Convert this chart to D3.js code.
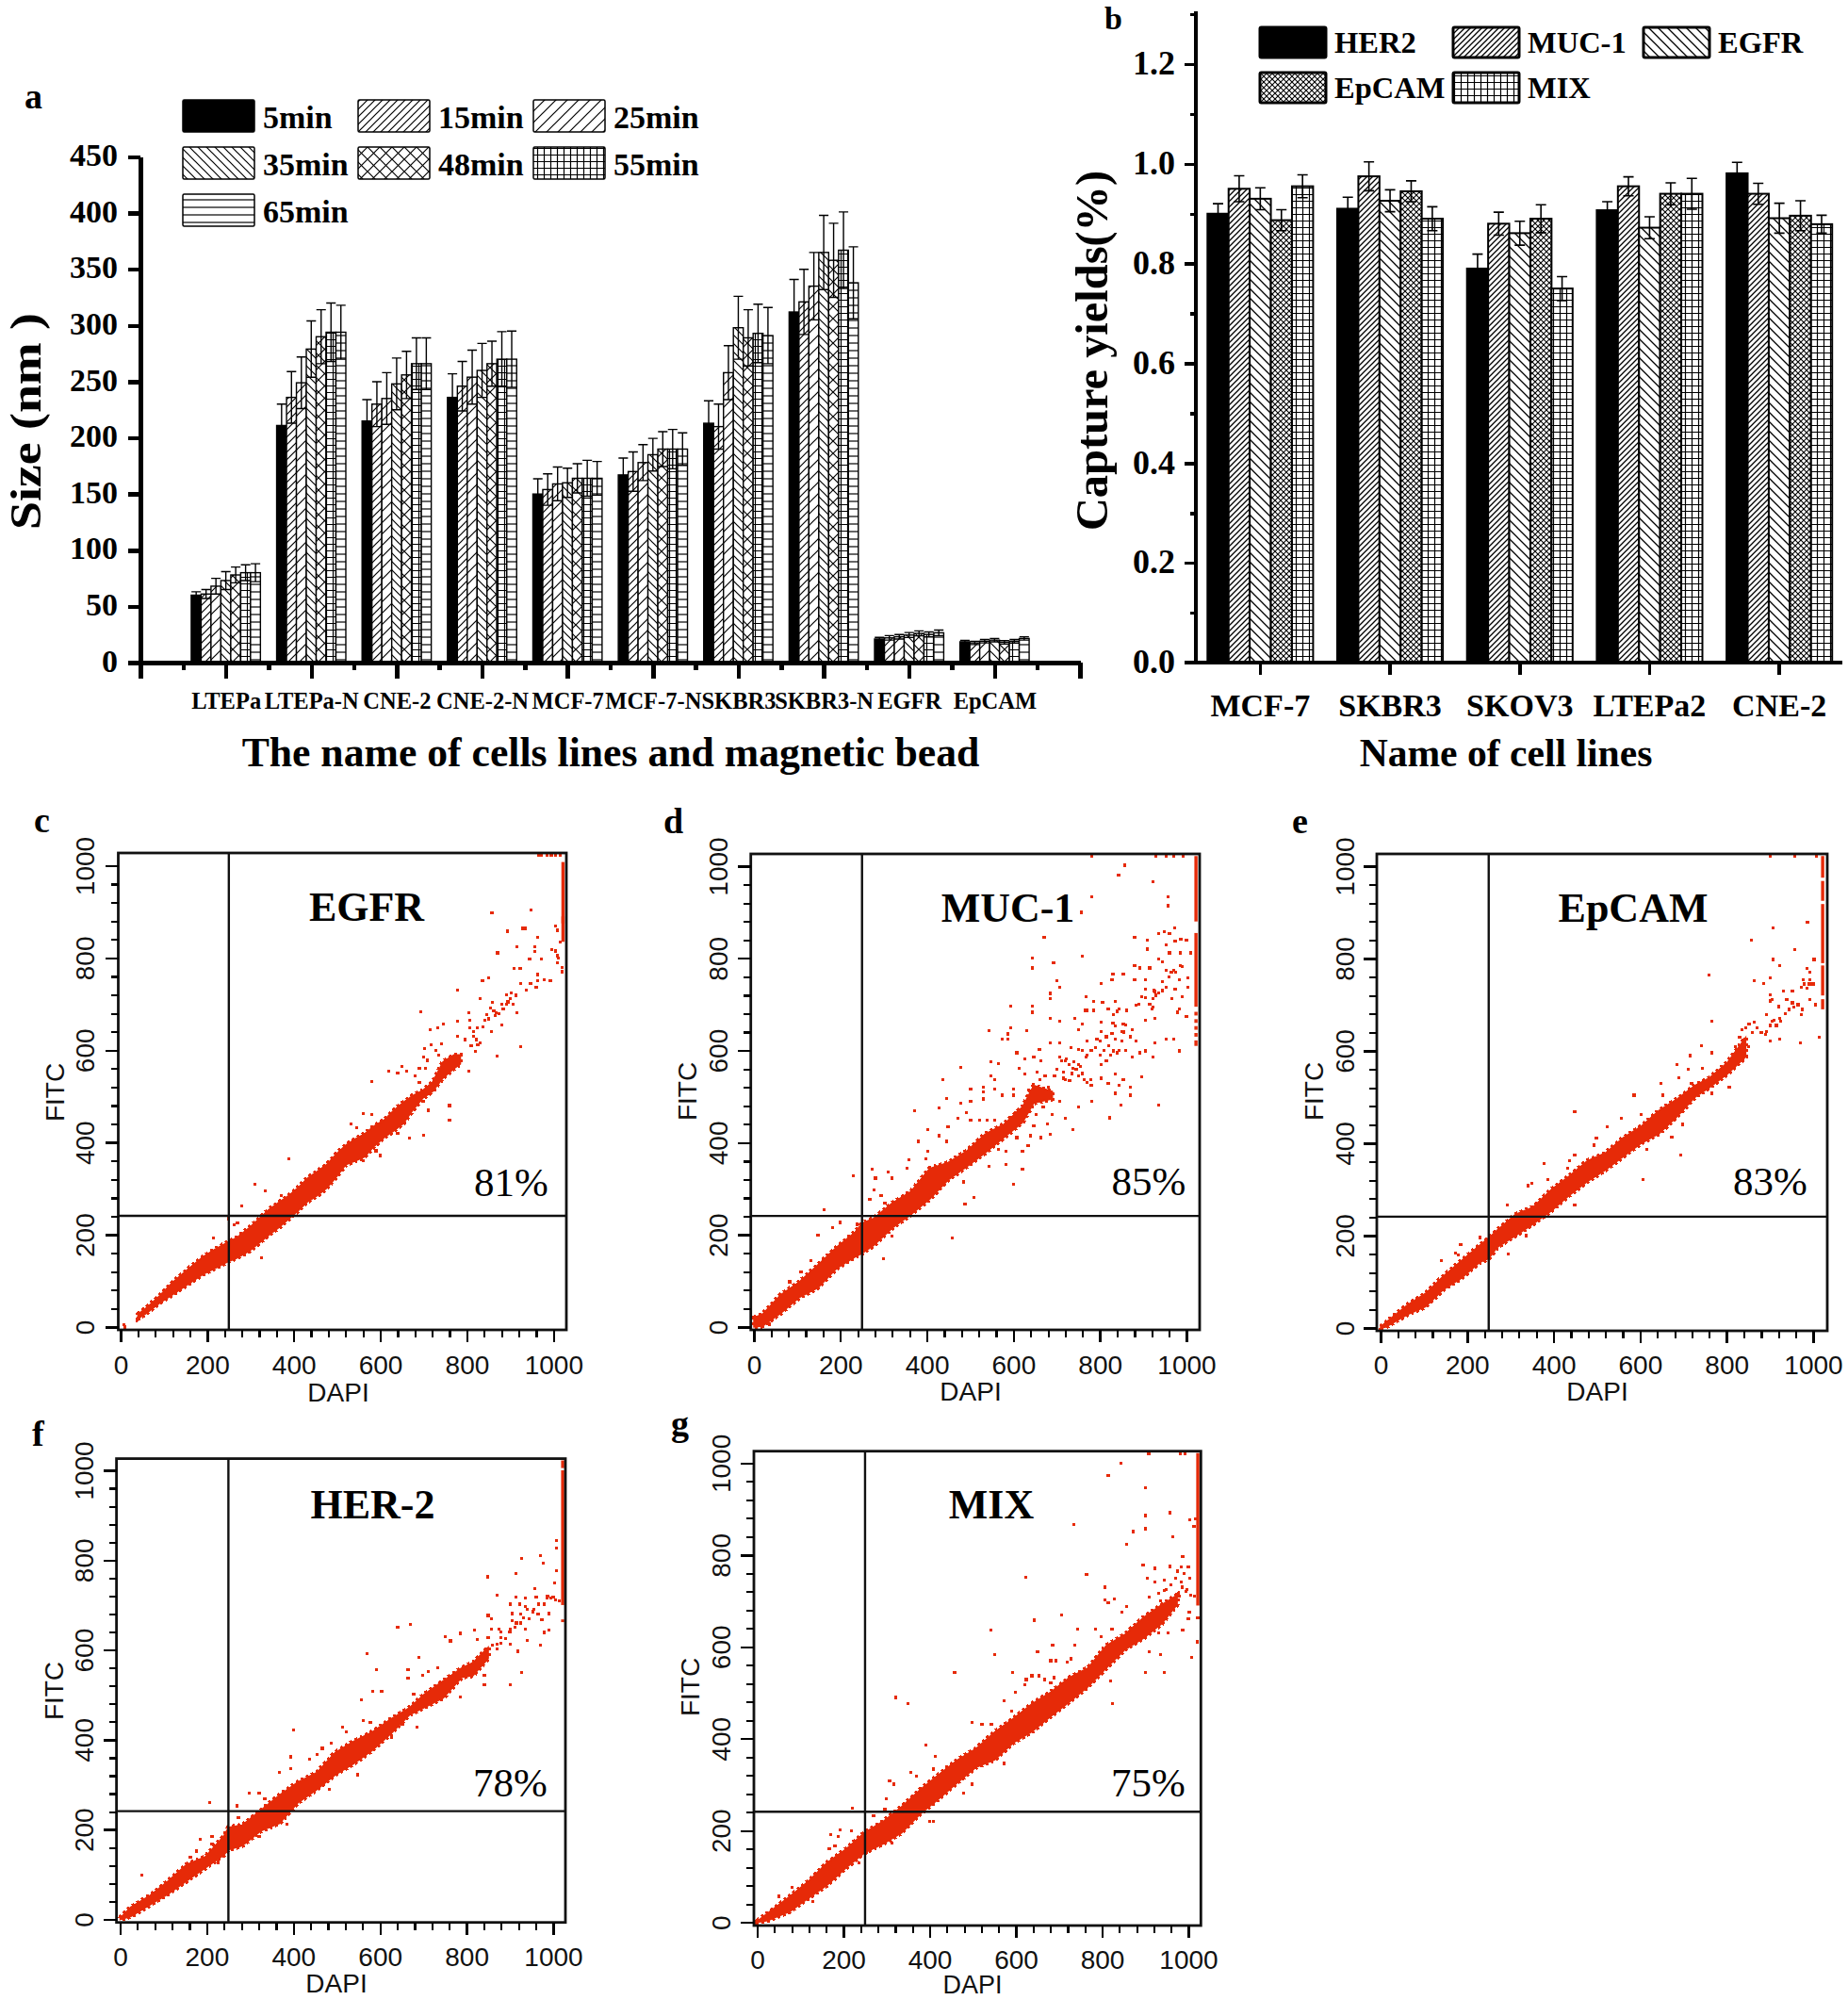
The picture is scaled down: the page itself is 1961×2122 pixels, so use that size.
<!DOCTYPE html>
<html><head><meta charset="utf-8">
<script src="https://d3js.org/d3.v7.min.js"></script>
<style>
html,body{margin:0;padding:0;background:#fff}
svg{display:block}
.serif{font-family:"Liberation Serif","Noto Sans CJK SC",serif;font-weight:700;fill:#000}
.sans{font-family:"Liberation Sans",sans-serif;fill:#111}
</style></head><body>
<script>
// ---------- panel a data ----------
const sizeCategories=["LTEPa","LTEPa-N","CNE-2","CNE-2-N","MCF-7","MCF-7-N","SKBR3","SKBR3-N","EGFR","EpCAM"];
const sizeTimes=["5min","15min","25min","35min","48min","55min","65min"];
const size5=[60,211,215,236,150,167,213,312,21,18.5];
const size15=[61,236,230,246,154,170,210,321,22,17.5];
const size25=[68,249,235,254,159,178,258,335,23,19];
const size35=[73,279,248,260,160,185,298,365,24.5,20];
const size48=[78,290,256,266,164,190,289,358,26,18];
const size55=[80,294,266,270,164,190,293,367,25,19];
const size65=[80,294,266,270,164,190,291,338,26.5,21.5];
const err5=[3,19,19,21,13.5,15,20,29,1.5,1.2];
const err15=[4,23,20,22,14,17.5,20,29,2,1.5];
const err25=[7,23,23,24,15,16,24,30,2,1.5];
const err35=[8,25,23,24,13,14.5,28,33,2.2,1.5];
const err48=[7,24,21,20,13,15.5,25,33,2.2,1.5];
const err55=[7,26,23,24.5,16,17.5,26,34,2.2,1.5];
const err65=[8,24,23,25,15,14.5,25,32,2.5,1.5];
const sizeTicks=[0,50,100,150,200,250,300,350,400,450];

// ---------- panel b data ----------
const yieldCells=["MCF-7","SKBR3","SKOV3","LTEPa2","CNE-2"];
const yieldAntibodies=["HER2","MUC-1","EGFR","EpCAM","MIX"];
const yieldHER2=[.90,.91,.79,.907,.981];
const yieldMUC1=[.95,.975,.88,.955,.94];
const yieldEGFR=[.93,.926,.861,.872,.891];
const yieldEpCAM=[.887,.945,.89,.94,.896];
const yieldMIX=[.955,.89,.75,.94,.879];
const yerrHER2=[.02,.023,.029,.017,.022];
const yerrMUC1=[.026,.029,.023,.019,.021];
const yerrEGFR=[.022,.022,.024,.022,.03];
const yerrEpCAM=[.021,.021,.028,.022,.03];
const yerrMIX=[.023,.024,.024,.031,.018];
const yieldTicks=[0,.2,.4,.6,.8,1.0,1.2];

// ---------- flow panels: dense band (DAPI stop, FITC low, FITC high), single events, right-edge runs ----------
const egfrDapi=[40,60,90,120,155,190,220,244,270,298,320,342,365,387,410,431,455,476,498,520,542,564,586,609,631,653,675,698,720,745,770,785];
const egfrLo=[18,30,52,70,92,114,128,140,150,165,182,199,215,233,252,271,285,301,325,352,360,369,392,411,425,441,470,496,510,540,560,570];
const egfrHi=[28,42,68,97,125,152,170,182,195,216,235,254,270,284,302,322,338,352,375,394,408,419,436,449,470,487,502,513,530,575,590,590];
const egfrPts=[[858,898],[949,904],[893,858],[929,864],[935,864],[964,844],[916,825],[871,811],[957,825],[957,814],[996,818],[973,798],[945,798],[1009,805],[909,777],[923,777],[964,764],[964,750],[978,752],[993,750],[960,737],[947,744],[938,731],[924,744],[851,757],[836,750],[778,731],[831,712],[693,684],[804,682],[902,725],[891,720],[913,719],[891,699],[906,699],[916,682],[880,699],[884,690],[868,682],[859,703],[855,691],[846,678],[842,665],[850,668],[807,665],[778,663],[746,657],[715,644],[733,648],[807,648],[824,648],[837,650],[857,640],[880,655],[816,631],[778,631],[796,623],[822,623],[831,616],[925,608],[870,588],[820,597],[703,603],[742,614],[804,555],[787,589],[815,640],[825,612],[810,610],[875,680],[895,705],[900,712],[862,685],[865,675],[718,612],[728,600],[735,590],[700,585],[708,578],[690,560],[705,560],[680,545],[690,530],[640,550],[620,555],[650,565],[660,555],[580,532],[700,490],[712,505],[722,520],[760,480],[760,448],[640,420],[668,410],[700,415],[710,470],[580,460],[560,462],[545,432],[532,440],[625,430],[600,372],[590,382],[560,360],[388,364],[310,310],[335,295],[372,285],[280,262],[250,235],[262,222],[270,225],[215,193],[325,150],[1005,870],[1010,860],[1015,835],[1005,815],[1010,790],[1020,770],[1020,780],[1012,800],[965,1022],[972,1022],[985,1022],[995,1022],[1005,1022],[1015,1022],[8,5],[10,0]];
const egfrEdge=[[835,1008],[875,890]];

const muc1Dapi=[0,20,62,105,148,191,234,250,277,320,363,406,449,492,535,578,621,647,690];
const muc1Lo=[0,2,30,64,85,127,152,160,177,215,244,277,319,348,378,411,444,486,495];
const muc1Hi=[20,28,70,98,135,173,206,225,236,269,294,344,357,382,419,440,478,524,511];
const muc1Pts=[[781,1022],[929,1022],[953,1022],[970,1022],[993,1022],[858,1002],[843,981],[923,967],[781,933],[957,933],[957,914],[757,900],[671,845],[880,845],[935,854],[948,858],[961,854],[972,866],[987,841],[1000,839],[910,839],[910,820],[953,829],[974,837],[961,812],[985,812],[1009,812],[759,805],[643,800],[643,779],[693,791],[935,799],[944,793],[880,785],[893,779],[915,779],[953,774],[970,774],[991,783],[830,766],[854,766],[880,753],[828,753],[906,753],[944,749],[983,753],[1004,757],[802,745],[700,751],[707,737],[686,724],[686,712],[768,716],[906,733],[927,728],[953,737],[974,733],[1004,737],[897,716],[923,712],[966,712],[991,716],[785,707],[806,705],[836,707],[594,697],[643,697],[643,683],[819,691],[862,687],[884,699],[767,687],[771,687],[785,687],[983,691],[923,695],[686,670],[707,663],[742,670],[832,678],[906,666],[927,670],[979,683],[1000,674],[759,658],[802,662],[854,658],[875,645],[836,654],[594,649],[544,643],[630,643],[587,636],[574,624],[587,624],[750,645],[802,641],[828,637],[850,641],[953,624],[970,624],[927,616],[884,620],[793,624],[771,620],[707,616],[686,616],[660,603],[733,607],[750,603],[983,599],[906,599],[893,595],[923,586],[875,586],[832,599],[840,595],[815,578],[647,586],[608,595],[626,582],[664,578],[707,586],[720,578],[737,561],[768,586],[760,600],[479,563],[548,576],[565,571],[613,561],[655,553],[673,545],[716,553],[750,545],[802,570],[836,549],[897,543],[802,540],[778,536],[436,536],[548,545],[557,536],[626,549],[662,536],[695,545],[720,536],[763,536],[819,528],[854,536],[845,524],[871,520],[501,516],[531,520],[531,511],[557,516],[600,516],[836,507],[871,503],[600,503],[445,496],[479,486],[501,490],[531,495],[574,503],[750,478],[781,490],[849,482],[935,482],[428,476],[372,470],[707,490],[669,478],[823,454],[652,461],[690,461],[720,453],[492,465],[471,453],[501,449],[522,449],[540,449],[557,449],[449,434],[402,428],[647,436],[678,440],[737,428],[664,411],[686,419],[639,415],[608,411],[445,403],[428,415],[380,403],[621,382],[634,394],[583,382],[565,386],[402,382],[398,365],[359,363],[311,336],[273,342],[230,329],[281,323],[319,323],[354,344],[583,353],[621,342],[544,348],[484,315],[600,309],[508,282],[488,267],[277,298],[268,277],[294,286],[303,269],[163,254],[458,194],[299,148],[148,200],[200,227],[182,215],[238,223],[320,198],[131,144],[83,98],[109,119],[36,6],
[700,560],[712,578],[722,582],[735,550],[745,560],[755,565],[770,590],[780,600],[790,606],[800,620],[815,630],[830,660],[840,685],[845,690],[855,640],[850,620],[860,600],[845,600],[825,590],[780,525],[770,530],[760,550],[740,575],[728,570],[715,540],[730,535],[750,570],[860,655],[870,630],[890,700],[905,715],[915,700],[920,690],[935,725],[945,730],[960,760],[965,770],[975,770],[985,785],[925,730],[930,720],[800,590],[810,600],[820,610],[835,625],[680,505],[670,505],[660,505],[650,505],[640,505],[635,515],[650,520],[665,515],[680,520],[625,480],[615,470],[605,465],[595,455],[620,465]];
const muc1Edge=[[880,1022],[695,855],[676,684],[660,668],[645,653],[630,638],[610,622]];

const epcamDapi=[0,12,62,104,145,187,229,250,270,312,353,395,436,478,520,561,603,644,686,727,761,802,844];
const epcamLo=[0,2,29,46,83,108,142,150,175,200,225,254,287,317,342,371,400,421,458,500,521,550,587];
const epcamHi=[3,12,50,75,112,146,179,195,212,246,262,300,329,362,379,412,437,471,496,525,542,575,629];
const epcamPts=[[900,1022],[958,1022],[1007,1022],[908,867],[987,879],[858,839],[958,819],[908,798],[923,785],[1002,798],[759,765],[864,752],[885,746],[900,758],[985,779],[993,771],[977,754],[993,754],[900,721],[900,708],[906,712],[931,729],[952,729],[972,737],[939,712],[921,696],[952,704],[993,712],[1006,700],[893,679],[910,667],[765,664],[923,671],[852,658],[835,646],[864,662],[893,642],[900,621],[923,625],[971,617],[1014,629],[972,679],[741,611],[765,596],[715,590],[686,571],[744,562],[711,561],[690,542],[765,508],[806,522],[719,529],[648,529],[652,504],[586,504],[449,468],[557,454],[673,462],[603,462],[524,436],[698,441],[673,414],[694,375],[615,387],[499,412],[493,396],[449,375],[436,362],[378,356],[432,346],[607,322],[386,322],[349,314],[341,308],[449,267],[293,267],[185,181],[229,196],[173,163],[141,146],[295,161],[337,200],[179,158],
[860,640],[870,650],[880,640],[900,655],[905,665],[915,655],[925,665],[935,680],[945,690],[955,695],[965,700],[975,690],[985,735],[995,745],[1000,745],[990,745],[980,745],[890,635],[850,610],[845,650],[830,630],[820,610]];
const epcamEdge=[[720,785],[790,918],[925,968],[975,1022],[690,712]];

const her2Dapi=[0,24,67,110,153,196,239,250,282,325,368,411,454,497,540,583,626,669,703,746,789,815,850];
const her2Lo=[0,6,31,56,85,114,143,155,164,197,214,260,289,322,347,377,414,456,472,493,539,543,581];
const her2Hi=[3,27,52,85,122,139,185,205,210,243,277,306,327,372,397,418,447,472,502,531,560,572,606];
const her2Pts=[[1007,843],[1007,827],[927,803],[970,810],[977,793],[914,770],[848,763],[1007,777],[1004,750],[957,737],[871,722],[914,717],[936,716],[961,718],[987,720],[1000,718],[901,702],[922,702],[936,697],[966,702],[979,702],[991,681],[905,681],[931,672],[953,685],[974,668],[850,677],[858,670],[671,657],[641,650],[936,647],[991,645],[979,639],[819,645],[858,647],[875,647],[901,647],[751,630],[785,637],[763,620],[824,624],[850,627],[879,627],[940,622],[901,612],[970,610],[871,602],[918,597],[570,591],[690,583],[592,556],[665,556],[665,537],[699,543],[733,560],[927,550],[841,543],[901,522],[841,522],[712,552],[583,508],[604,508],[678,502],[557,489],[785,495],[561,442],[578,439],[514,428],[522,418],[400,422],[652,435],[686,428],[626,406],[488,393],[467,381],[394,362],[454,367],[437,356],[548,322],[368,328],[394,335],[484,289],[299,281],[321,281],[334,268],[269,253],[206,260],[273,227],[385,212],[185,179],[212,185],[212,168],[50,99],[226,127],[321,185],[162,139],[177,152],
[860,610],[870,612],[880,615],[890,625],[900,640],[915,660],[925,680],[940,690],[955,690],[965,680],[985,715],[995,715],[1005,712],[1015,710],[905,665],[912,650],[880,640],[835,590],[845,585],[925,660],[945,670]];
const her2Edge=[[700,1000],[1005,1022],[662,668]];

const mixDapi=[0,24,76,119,162,205,248,292,335,378,421,465,508,551,594,637,680,724,767,810,853,896,939,974];
const mixLo=[0,4,24,53,81,118,151,171,195,236,269,305,338,354,391,415,448,480,513,554,594,619,651,692];
const mixHi=[3,20,57,90,130,159,195,220,252,289,322,354,379,415,444,476,501,533,554,603,627,664,692,713];
const mixPts=[[908,1020],[981,1020],[993,1020],[843,999],[814,973],[901,946],[957,892],[901,886],[735,866],[901,857],[872,851],[964,839],[857,824],[1013,863],[1004,877],[1017,878],[987,796],[895,778],[922,771],[957,775],[983,774],[1000,774],[764,757],[905,749],[622,751],[944,745],[970,749],[1004,749],[807,730],[922,741],[983,741],[948,725],[996,725],[806,702],[829,704],[814,696],[909,708],[931,717],[857,688],[845,676],[1002,676],[1022,664],[706,670],[642,658],[1000,661],[542,637],[743,638],[784,639],[823,639],[987,637],[797,623],[931,631],[953,631],[1021,611],[909,590],[685,603],[737,603],[551,584],[650,590],[935,584],[1007,577],[681,570],[693,570],[719,566],[728,574],[901,544],[944,544],[458,544],[592,544],[637,537],[654,537],[667,529],[624,529],[620,517],[681,521],[689,533],[819,525],[598,501],[824,476],[322,490],[350,476],[573,482],[590,460],[499,436],[521,432],[543,432],[391,387],[573,346],[413,362],[357,327],[370,319],[307,308],[316,301],[439,338],[408,334],[300,269],[221,248],[400,220],[408,220],[499,301],[478,281],[171,191],[193,201],[188,187],[167,160],[180,167],[218,200],[50,57],[80,77],[128,45],[236,130],[313,173],[253,153],[270,232],[296,246],
[985,730],[995,720],[1005,712],[1015,710],[960,700],[970,695],[978,710],[990,760],[975,765],[960,735],[945,722],[935,700]];
const mixEdge=[[690,1022]];

const flowTicks=[0,200,400,600,800,1000];
const flowMinor=[40,80,120,160,240,280,320,360,440,480,520,560,640,680,720,760,840,880,920,960];
const quadrantDapi=250, quadrantFitc=241, flowEdgeDapi=1022;

// ---------- layout (not data) ----------
const W=1961,H=2122;
const svg=d3.select("body").append("svg").attr("width",W).attr("height",H).attr("viewBox",`0 0 ${W} ${H}`);
const defs=svg.append("defs");
function hatch(id,size,paths,sw){
  const p=defs.append("pattern").attr("id",id).attr("patternUnits","userSpaceOnUse").attr("width",size).attr("height",size);
  p.append("rect").attr("width",size).attr("height",size).attr("fill","#fff");
  paths.forEach(d=>p.append("path").attr("d",d).attr("stroke","#000").attr("stroke-width",sw).attr("fill","none"));
}
function diagUp(s){return `M${-s/2},${s/2}L${s/2},${-s/2}M0,${s}L${s},0M${s/2},${s*1.5}L${s*1.5},${s/2}`}
function diagDn(s){return `M${-s/2},${s/2}L${s/2},${s*1.5}M0,0L${s},${s}M${s/2},${-s/2}L${s*1.5},${s/2}`}
hatch("a15",8,[diagUp(8)],1.2);
hatch("a25",12,[diagUp(12)],1.2);
hatch("a35",9,[diagDn(9)],1.2);
hatch("a48",13,[diagUp(13),diagDn(13)],1.2);
hatch("a55",7,[`M0,3.5H7M3.5,0V7`],1.2);
hatch("a65",8,[`M0,4H8`],1.2);
hatch("bMUC",6,[diagUp(6)],1.3);
hatch("bEGFR",10,[diagDn(10)],1.3);
hatch("bEp",6,[diagUp(6),diagDn(6)],1.1);
hatch("bMIX",7,[`M0,3.5H7M3.5,0V7`],1.2);
const fillsA=["#000","url(#a15)","url(#a25)","url(#a35)","url(#a48)","url(#a55)","url(#a65)"];
const fillsB=["#000","url(#bMUC)","url(#bEGFR)","url(#bEp)","url(#bMIX)"];
function txt(cls,s,x,y,size,opt={}){
  const t=svg.append("text").attr("class",cls).attr("x",x).attr("y",y).attr("font-size",size).text(s);
  if(opt.anchor)t.attr("text-anchor",opt.anchor);
  if(opt.rot)t.attr("transform",`rotate(${opt.rot} ${x} ${y})`);
  if(opt.weight)t.style("font-weight",opt.weight);
  if(opt.fit)t.attr("textLength",opt.fit).attr("lengthAdjust","spacingAndGlyphs");
  return t;
}
function styleAxis(g,sw){g.selectAll("line,path").attr("stroke","#000").attr("stroke-width",sw).attr("shape-rendering","crispEdges");}

// ---------- panel a ----------
(function(){
  const sizeSeries=[size5,size15,size25,size35,size48,size55,size65];
  const errSeries=[err5,err15,err25,err35,err48,err55,err65];
  const x=d3.scaleLinear().domain([0,11]).range([149,1146]);
  const y=d3.scaleLinear().domain([0,450]).range([703,166.5]);
  const inner=d3.scaleBand().domain(sizeTimes).range([-0.405,0.405]);
  const bw=x(inner.bandwidth())-x(0);
  sizeSeries.forEach((vals,s)=>{
    const g=svg.append("g");
    vals.forEach((v,i)=>{
      const bx=x(i+1+inner(sizeTimes[s]));
      g.append("rect").attr("x",bx).attr("y",y(v)).attr("width",bw).attr("height",y(0)-y(v))
        .attr("fill",fillsA[s]).attr("stroke","#000").attr("stroke-width",1.4);
      const e=errSeries[s][i],cx=bx+bw/2,cap=bw*0.48;
      g.append("path").attr("fill","none").attr("stroke","#000").attr("stroke-width",1.4)
        .attr("d",`M${cx},${y(v-e)}V${y(v+e)}M${cx-cap},${y(v+e)}H${cx+cap}M${bx},${y(v-e)}H${bx+bw}`);
    });
  });
  const ax=svg.append("g").attr("transform","translate(149,0)").call(d3.axisLeft(y).tickValues(sizeTicks).tickSize(13).tickSizeOuter(0).tickFormat(d3.format("d")));
  styleAxis(ax,4.5);
  ax.selectAll("text").attr("class","serif").attr("font-size",34).attr("dy",".27em").attr("x",-24);
  const xMinor=svg.append("g").attr("transform","translate(0,703)").call(d3.axisBottom(x).tickValues(d3.range(0.5,11,1)).tickSize(8).tickSizeOuter(0).tickFormat(""));
  styleAxis(xMinor,4.5);
  const xMajor=svg.append("g").attr("transform","translate(0,703)").call(d3.axisBottom(x).tickValues(d3.range(0,12)).tickSize(17).tickSizeOuter(0).tickFormat(i=>sizeCategories[i-1]||""));
  styleAxis(xMajor,4.5);
  xMajor.selectAll("text").attr("class","serif").attr("font-size",24.5).attr("dy",0).attr("y",49).attr("text-anchor","middle");
  // legend
  const cols=[194,380,566],rows=[106,156,206];
  sizeTimes.forEach((t,i)=>{
    const cx=cols[i%3],ry=rows[Math.floor(i/3)];
    svg.append("rect").attr("x",cx).attr("y",ry).attr("width",76).attr("height",34).attr("rx",1.5)
      .attr("fill",fillsA[i]).attr("stroke","#000").attr("stroke-width",1.5);
    txt("serif",t,cx+85,ry+30,34);
  });
  txt("serif","a",26,115,38);
  txt("serif","Size\u00A0(nm\u00A0)",43,447,47,{anchor:"middle",rot:-90,fit:230});
  txt("serif","The name of cells lines and magnetic bead",648,813,43.7,{anchor:"middle"});
})();

// ---------- panel b ----------
(function(){
  const ySeries=[yieldHER2,yieldMUC1,yieldEGFR,yieldEpCAM,yieldMIX];
  const eSeries=[yerrHER2,yerrMUC1,yerrEGFR,yerrEpCAM,yerrMIX];
  const x=d3.scaleBand().domain(yieldCells).range([1268.5,1957]);
  const y=d3.scaleLinear().domain([0,1.2]).range([703,68]);
  const inner=d3.scaleBand().domain(yieldAntibodies).range([x.bandwidth()*0.093,x.bandwidth()*0.907]);
  ySeries.forEach((vals,s)=>{
    vals.forEach((v,i)=>{
      const bx=x(yieldCells[i])+inner(yieldAntibodies[s]),bw=inner.bandwidth();
      svg.append("rect").attr("x",bx).attr("y",y(v)).attr("width",bw).attr("height",y(0)-y(v))
        .attr("fill",fillsB[s]).attr("stroke","#000").attr("stroke-width",2);
      const e=eSeries[s][i],cx=bx+bw/2;
      svg.append("path").attr("fill","none").attr("stroke","#000").attr("stroke-width",1.6)
        .attr("d",`M${cx},${y(v-e)}V${y(v+e)}M${cx-5.5},${y(v+e)}H${cx+5.5}M${cx-5.5},${y(v-e)}H${cx+5.5}`);
    });
  });
  const axMinor=svg.append("g").attr("transform","translate(1269,0)").call(d3.axisLeft(y).tickValues([.1,.3,.5,.7,.9,1.1,1.3]).tickSize(6).tickSizeOuter(0).tickFormat(""));
  styleAxis(axMinor,3.5);
  axMinor.select(".domain").attr("d",`M0,${y(1.305)}V703`);
  const ax=svg.append("g").attr("transform","translate(1269,0)").call(d3.axisLeft(y).tickValues(yieldTicks).tickSize(12).tickSizeOuter(0).tickFormat(d3.format(".1f")));
  styleAxis(ax,3.5);
  ax.select(".domain").remove();
  ax.selectAll("text").attr("class","serif").attr("font-size",36).attr("dy",".3em").attr("x",-22);
  const xa=svg.append("g").attr("transform","translate(0,703)").call(d3.axisBottom(x).tickSize(13).tickSizeOuter(0));
  styleAxis(xa,3.5);
  xa.select(".domain").attr("d","M1257,0H1955");
  xa.selectAll("text").attr("class","serif").attr("font-size",34).attr("dy",0).attr("y",57);
  const lx=[1337,1542,1744],ly=[29,77];
  yieldAntibodies.forEach((t,i)=>{
    const cx=lx[i%3],ry=ly[Math.floor(i/3)];
    svg.append("rect").attr("x",cx).attr("y",ry).attr("width",70).attr("height",32).attr("rx",1.5)
      .attr("fill",fillsB[i]).attr("stroke","#000").attr("stroke-width",3);
    txt("serif",t,cx+79,ry+27,32.5);
  });
  txt("serif","b",1172,31,34);
  txt("serif","Capture yields(%)",1175,372,48.4,{anchor:"middle",rot:-90});
  txt("serif","Name of cell lines",1598,813,41.6,{anchor:"middle"});
})();

// ---------- flow panels ----------
const RED="#e62a08";
const flowPanels=[
 {name:"EGFR",pct:"81%",tag:"c",dapi:egfrDapi,lo:egfrLo,hi:egfrHi,pts:egfrPts,edge:egfrEdge,fx:[125.5,601],fy:[905,1411],x0:128,x1:587.3,y0:1408,y1:918.5,
  title:[389,977],pctAt:[542.5,1269],tagAt:[36,883],ylab:99.6,fitc:[68,1159],dapiAt:[359,1487],xlab:1458},
 {name:"MUC-1",pct:"85%",tag:"d",dapi:muc1Dapi,lo:muc1Lo,hi:muc1Hi,pts:muc1Pts,edge:muc1Edge,fx:[796.7,1273],fy:[906,1411],x0:800,x1:1259,y0:1408,y1:919,
  title:[1069.5,977.5],pctAt:[1219,1268],tagAt:[704,884],ylab:772,fitc:[739,1158],dapiAt:[1030,1486],xlab:1458},
 {name:"EpCAM",pct:"83%",tag:"e",dapi:epcamDapi,lo:epcamLo,hi:epcamHi,pts:epcamPts,edge:epcamEdge,fx:[1461,1939],fy:[906,1412],x0:1465,x1:1924,y0:1409,y1:919,
  title:[1733,977.5],pctAt:[1878.5,1268],tagAt:[1371,884],ylab:1436.5,fitc:[1404,1158],dapiAt:[1695,1486],xlab:1458},
 {name:"HER-2",pct:"78%",tag:"f",dapi:her2Dapi,lo:her2Lo,hi:her2Hi,pts:her2Pts,edge:her2Edge,fx:[123.6,600],fy:[1547.6,2039.7],x0:127.5,x1:587,y0:2036.5,y1:1560,
  title:[395.5,1611],pctAt:[541.5,1905.6],tagAt:[34,1534],ylab:99,fitc:[66.6,1794],dapiAt:[357,2114],xlab:2086.5},
 {name:"MIX",pct:"75%",tag:"g",dapi:mixDapi,lo:mixLo,hi:mixHi,pts:mixPts,edge:mixEdge,fx:[800,1274.3],fy:[1539.7,2043],x0:803.6,x1:1261,y0:2039.7,y1:1552.4,
  title:[1052,1611],pctAt:[1218.5,1905.6],tagAt:[712,1523],ylab:775,fitc:[742,1790],dapiAt:[1032,2115],xlab:2089}
];
flowPanels.forEach(p=>{
  const x=d3.scaleLinear().domain([0,1000]).range([p.x0,p.x1]);
  const y=d3.scaleLinear().domain([0,1000]).range([p.y0,p.y1]);
  const area=d3.area().x((d,i)=>x(p.dapi[i])).y0((d,i)=>y(p.lo[i])).y1((d,i)=>y(p.hi[i]));
  const bandPath=area(p.dapi);
  svg.append("path").attr("d",bandPath).attr("fill",RED).attr("stroke",RED).attr("stroke-width",1.5);
  // dashed outline gives the band the blocky, binned edge of a dot plot
  svg.append("path").attr("d",bandPath).attr("fill","none").attr("stroke",RED).attr("stroke-width",5)
    .attr("stroke-dasharray","3 3").attr("shape-rendering","crispEdges");
  svg.append("g").selectAll("rect").data(p.pts).join("rect").attr("shape-rendering","crispEdges")
    .attr("x",d=>x(d[0])-1.6).attr("y",d=>y(d[1])-1.6).attr("width",3.2).attr("height",3.2).attr("fill",RED);
  svg.append("g").selectAll("line").data(p.edge).join("line")
    .attr("x1",x(flowEdgeDapi)).attr("x2",x(flowEdgeDapi)).attr("y1",d=>y(d[0])).attr("y2",d=>y(d[1]))
    .attr("stroke",RED).attr("stroke-width",3.4);
  svg.append("rect").attr("x",p.fx[0]).attr("y",p.fy[0]).attr("width",p.fx[1]-p.fx[0]).attr("height",p.fy[1]-p.fy[0])
    .attr("fill","none").attr("stroke","#111").attr("stroke-width",2.8);
  svg.append("line").attr("x1",x(quadrantDapi)).attr("x2",x(quadrantDapi)).attr("y1",p.fy[0]).attr("y2",p.fy[1]).attr("stroke","#111").attr("stroke-width",2.4);
  svg.append("line").attr("x1",p.fx[0]).attr("x2",p.fx[1]).attr("y1",y(quadrantFitc)).attr("y2",y(quadrantFitc)).attr("stroke","#111").attr("stroke-width",2.4);
  const fmt=d3.format("d");
  // x axis
  const xm=svg.append("g").attr("transform",`translate(0,${p.fy[1]})`).call(d3.axisBottom(x).tickValues(flowMinor).tickSize(8).tickSizeOuter(0).tickFormat(""));
  styleAxis(xm,2.2); xm.select(".domain").remove();
  const xj=svg.append("g").attr("transform",`translate(0,${p.fy[1]})`).call(d3.axisBottom(x).tickValues(flowTicks).tickSize(13).tickSizeOuter(0).tickFormat(fmt));
  styleAxis(xj,2.4); xj.select(".domain").remove();
  xj.selectAll("text").attr("class","sans").attr("font-size",28).attr("dy",0).attr("y",p.xlab-p.fy[1]);
  // y axis
  const ym=svg.append("g").attr("transform",`translate(${p.fx[0]},0)`).call(d3.axisLeft(y).tickValues(flowMinor).tickSize(8).tickSizeOuter(0).tickFormat(""));
  styleAxis(ym,2.2); ym.select(".domain").remove();
  const yj=svg.append("g").attr("transform",`translate(${p.fx[0]},0)`).call(d3.axisLeft(y).tickValues(flowTicks).tickSize(14).tickSizeOuter(0).tickFormat(fmt));
  styleAxis(yj,2.4); yj.select(".domain").remove();
  yj.selectAll("text").attr("class","sans").attr("font-size",28).attr("x",0).attr("y",0).attr("dy",0)
    .attr("text-anchor","middle").attr("transform",`translate(${p.ylab-p.fx[0]},0) rotate(-90)`);
  txt("sans","FITC",p.fitc[0],p.fitc[1],28,{anchor:"middle",rot:-90});
  txt("sans","DAPI",p.dapiAt[0],p.dapiAt[1],p.tag==="g"?27:28,{anchor:"middle"});
  txt("serif",p.name,p.title[0],p.title[1],44,{anchor:"middle"});
  txt("serif",p.pct,p.pctAt[0],p.pctAt[1],43,{anchor:"middle",weight:400});
  txt("serif",p.tag,p.tagAt[0],p.tagAt[1],38);
});
</script>
</body></html>
